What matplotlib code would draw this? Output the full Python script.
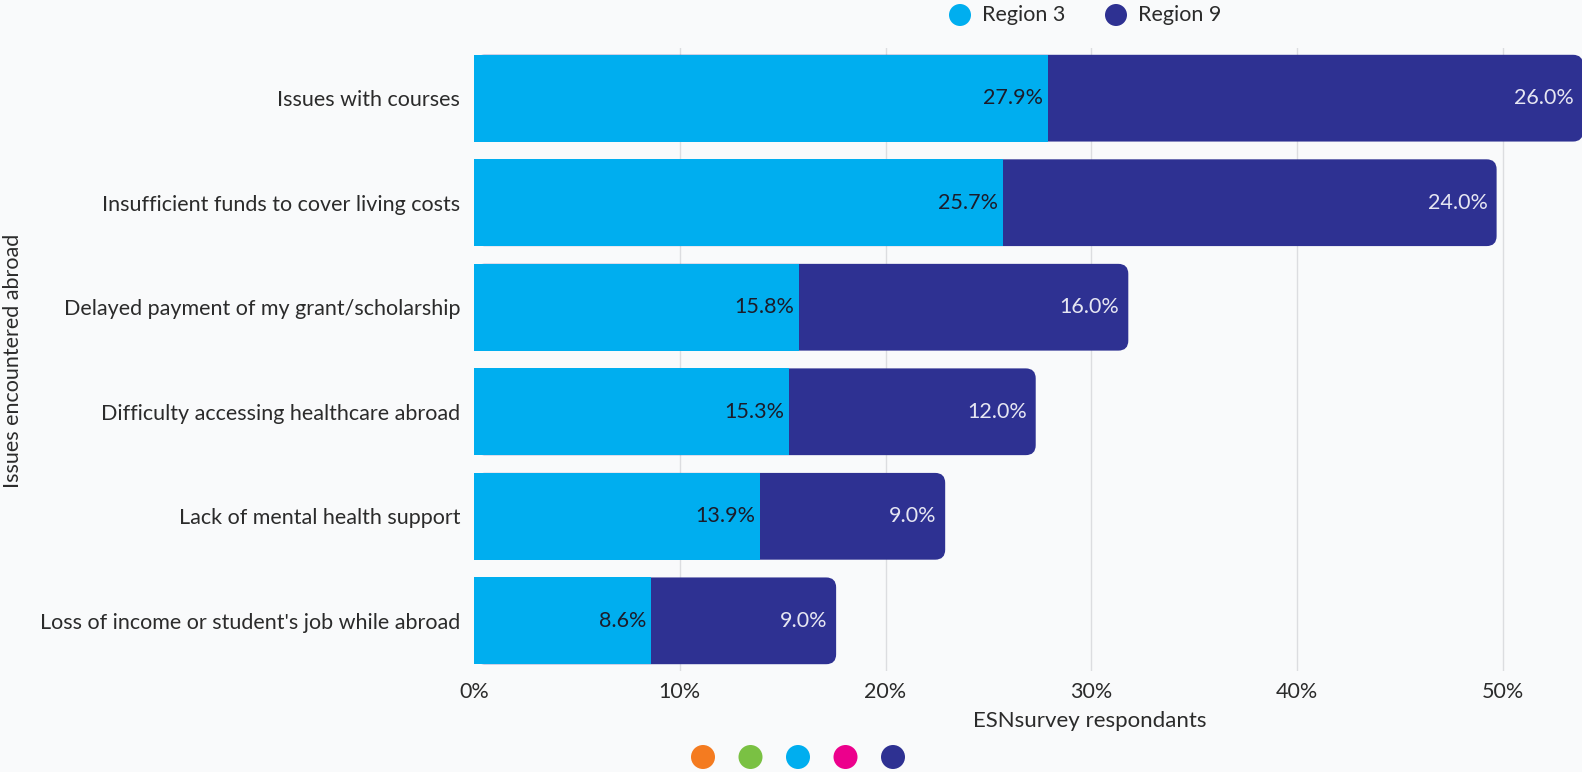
import matplotlib.pyplot as plt
from matplotlib.patches import FancyBboxPatch, Ellipse
from matplotlib.ticker import FuncFormatter

plt.rcParams['font.family'] = ['Lato', 'DejaVu Sans']

# data
issues = [
    "Issues with courses",
    "Insufficient funds to cover living costs",
    "Delayed payment of my grant/scholarship",
    "Difficulty accessing healthcare abroad",
    "Lack of mental health support",
    "Loss of income or student's job while abroad",
]
region3 = [27.9, 25.7, 15.8, 15.3, 13.9, 8.6]
region9 = [26.0, 24.0, 16.0, 12.0, 9.0, 9.0]
series_names = ["Region 3", "Region 9"]
xticks = [0, 10, 20, 30, 40, 50]
brand_dots = ["#f47b20", "#7ac143", "#00aeef", "#ec008c", "#2e3192"]

c_r3 = "#00aeef"
c_r9 = "#2e3192"
bg = "#f9fafb"
text_c = "#2b2b2b"
fs = 15.5

W, H = 1582, 772
fig = plt.figure(figsize=(W / 100, H / 100), dpi=100, facecolor=bg)
top, bottom = 48, 671
ax = fig.add_axes([474 / W, 1 - bottom / H, (W - 474) / W, (bottom - top) / H])
ax.set_facecolor(bg)

xmax = 53.85
ax.set_xlim(0, xmax)
ax.set_ylim(len(issues) - 0.5 - 0.02, -0.5 + 0.02)

bar_h = 0.83
# rounding radius ~10 px, converted to data units in x and y
px_x = (W - 474) / xmax
px_y = (bottom - top) / (len(issues) - 0.04)
r = 10
for i, (a, b) in enumerate(zip(region3, region9)):
    total = a + b
    patch = FancyBboxPatch((0, i - bar_h / 2), total, bar_h,
                           boxstyle=f"round,pad=0,rounding_size={r / px_x}",
                           mutation_aspect=px_x / px_y,
                           facecolor=c_r9, edgecolor="none", zorder=2)
    ax.add_patch(patch)
ax.barh(range(len(issues)), region3, height=bar_h, color=c_r3, zorder=3)

for i, (a, b) in enumerate(zip(region3, region9)):
    ax.annotate(f"{a:.1f}%", (a, i), xytext=(-5, 0), textcoords="offset pixels",
                ha="right", va="center", fontsize=fs, color="#1c1c2a", zorder=4,
                annotation_clip=False)
    ax.annotate(f"{b:.1f}%", (a + b, i), xytext=(-9, 0), textcoords="offset pixels",
                ha="right", va="center", fontsize=fs, color="#e6e6f2", zorder=4,
                annotation_clip=False)

ax.set_yticks(range(len(issues)))
ax.set_yticklabels(issues, fontsize=fs, color=text_c)
ax.set_xticks(xticks)
ax.xaxis.set_major_formatter(FuncFormatter(lambda v, p: f"{v:.0f}%"))
ax.tick_params(axis="x", labelsize=fs, colors=text_c, length=0, pad=8)
ax.tick_params(axis="y", length=0, pad=10)
ax.grid(axis="x", color="#dcdde0", linewidth=1, zorder=0)
ax.xaxis.get_gridlines()[0].set_visible(False)
for s in ax.spines.values():
    s.set_visible(False)

fig.text(1090 / W, 1 - 721 / H, "ESNsurvey respondants", ha="center", va="center",
         fontsize=16, color=text_c)
fig.text(13 / W, 1 - 361 / H, "Issues encountered abroad", ha="center", va="center",
         rotation=90, fontsize=fs, color=text_c)


def dot(xp, yp, rp, color):
    fig.add_artist(Ellipse((xp / W, 1 - yp / H), 2 * rp / W, 2 * rp / H,
                           transform=fig.transFigure, facecolor=color, edgecolor="none"))


# legend
dot(960, 15, 11, c_r3)
fig.text(982 / W, 1 - 15 / H, series_names[0], ha="left", va="center", fontsize=fs, color=text_c)
dot(1116, 15, 11, c_r9)
fig.text(1138 / W, 1 - 15 / H, series_names[1], ha="left", va="center", fontsize=fs, color=text_c)

# decorative brand dots
for k, c in enumerate(brand_dots):
    dot(703 + 47.5 * k, 757, 12, c)

fig.savefig("out.png", dpi=100, facecolor=bg)
